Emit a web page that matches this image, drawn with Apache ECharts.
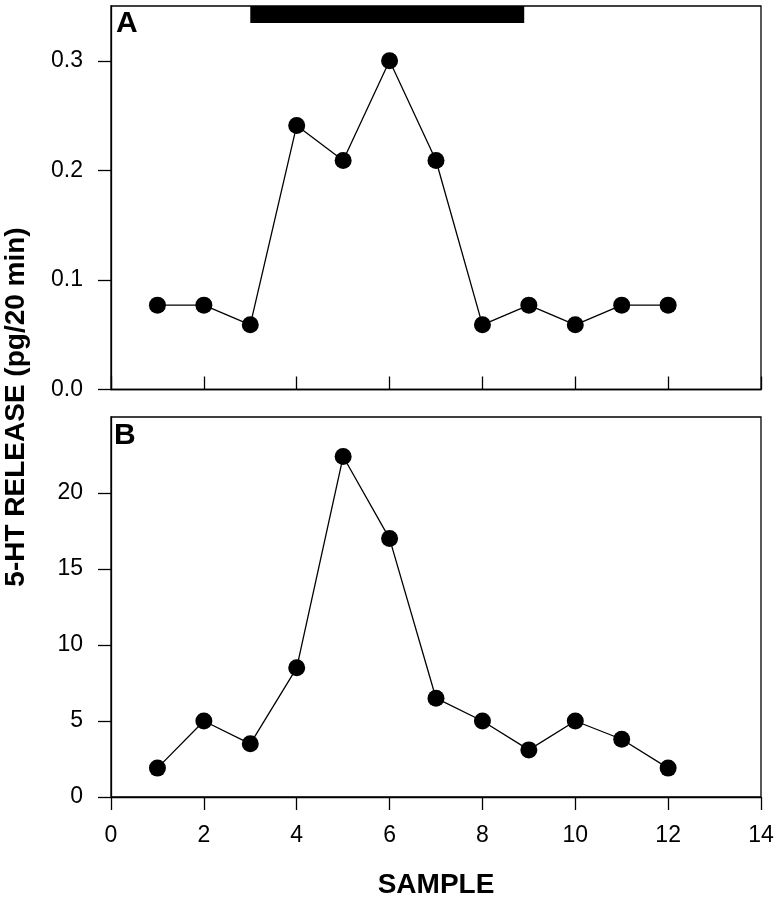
<!DOCTYPE html>
<html>
<head>
<meta charset="utf-8">
<script src="https://cdn.jsdelivr.net/npm/echarts@6/dist/echarts.min.js"></script>
<style>
html,body{margin:0;padding:0;background:#fff;}
#chart{width:779px;height:900px;}
</style>
</head>
<body>
<div id="chart"></div>
<script>
// ---- data ----
var samples = [1, 2, 3, 4, 5, 6, 7, 8, 9, 10, 11, 12];
var releaseA = [0.077, 0.077, 0.059, 0.241, 0.209, 0.300, 0.209, 0.059, 0.077, 0.059, 0.077, 0.077];
var releaseB = [1.9, 5.0, 3.5, 8.5, 22.4, 17.0, 6.5, 5.0, 3.1, 5.0, 3.8, 1.9];
var stimulusPeriod = [3, 8.9];          // sample range of the black bar
var stimulusBand = [0.3345, 0.35];       // vertical extent of the bar in panel A units
var xTicks = [0, 2, 4, 6, 8, 10, 12, 14];
var yTicksA = [0, 0.1, 0.2, 0.3];
var yTicksB = [0, 5, 10, 15, 20];
var panelLabels = ['A', 'B'];
var xTitle = 'SAMPLE';
var yTitle = '5-HT RELEASE (pg/20 min)';

function pairs(xs, ys) { return xs.map(function (x, i) { return [x, ys[i]]; }); }

var FONT = '"Liberation Sans", Arial, sans-serif';
var lw = 1.3;
var TICKFS = 23;

var chart = echarts.init(document.getElementById('chart'), null, {renderer: 'canvas'});

var option = {
  animation: false,
  backgroundColor: '#fff',
  textStyle: {fontFamily: FONT},
  grid: [
    {left: 111, width: 650, top: 6, height: 383.5, show: true, borderColor: '#000', borderWidth: lw, backgroundColor: 'transparent'},
    {left: 111, width: 650, top: 417, height: 381, show: true, borderColor: '#000', borderWidth: lw, backgroundColor: 'transparent'}
  ],
  xAxis: [
    {gridIndex: 0, type: 'value', min: 0, max: 14, interval: 2,
     axisLine: {show: true, lineStyle: {color: '#000', width: lw}},
     axisTick: {show: true, inside: true, length: 13, lineStyle: {color: '#000', width: lw}},
     axisLabel: {show: false}, splitLine: {show: false}},
    {gridIndex: 1, type: 'value', min: 0, max: 14, interval: 2,
     axisLine: {show: true, lineStyle: {color: '#000', width: lw}},
     axisTick: {show: true, inside: false, length: 13, lineStyle: {color: '#000', width: lw}},
     axisLabel: {show: true, margin: 27, color: '#000', fontSize: TICKFS, fontFamily: FONT,
                 customValues: xTicks},
     splitLine: {show: false},
     name: xTitle, nameLocation: 'middle', nameGap: 74,
     nameTextStyle: {color: '#000', fontSize: 28, fontWeight: 'bold', fontFamily: FONT}}
  ],
  yAxis: [
    {gridIndex: 0, type: 'value', min: 0, max: 0.35,
     axisLine: {show: true, lineStyle: {color: '#000', width: lw}},
     axisTick: {show: true, inside: false, length: 13, lineStyle: {color: '#000', width: lw}, customValues: yTicksA},
     axisLabel: {show: true, margin: 28, color: '#000', fontSize: TICKFS, fontFamily: FONT, customValues: yTicksA,
                 formatter: function (v) { return v.toFixed(1); }},
     splitLine: {show: false}},
    {gridIndex: 1, type: 'value', min: 0, max: 25,
     axisLine: {show: true, lineStyle: {color: '#000', width: lw}},
     axisTick: {show: true, inside: false, length: 13, lineStyle: {color: '#000', width: lw}, customValues: yTicksB},
     axisLabel: {show: true, margin: 28, color: '#000', fontSize: TICKFS, fontFamily: FONT, customValues: yTicksB},
     splitLine: {show: false}}
  ],
  series: [
    {type: 'line', xAxisIndex: 0, yAxisIndex: 0, data: pairs(samples, releaseA),
     symbol: 'circle', symbolSize: 17, lineStyle: {color: '#000', width: lw},
     itemStyle: {color: '#000'},
     markArea: {silent: true, itemStyle: {color: '#000', opacity: 1},
       data: [[{coord: [stimulusPeriod[0], stimulusBand[0]]}, {coord: [stimulusPeriod[1], stimulusBand[1]]}]]}},
    {type: 'line', xAxisIndex: 1, yAxisIndex: 1, data: pairs(samples, releaseB),
     symbol: 'circle', symbolSize: 17, lineStyle: {color: '#000', width: lw},
     itemStyle: {color: '#000'}}
  ],
  graphic: [
    {type: 'text', left: 116, top: 9, style: {text: panelLabels[0], font: 'bold 30px ' + FONT, fill: '#000'}},
    {type: 'text', left: 114, top: 421, style: {text: panelLabels[1], font: 'bold 30px ' + FONT, fill: '#000'}},
    {type: 'text', x: 16, y: 407, rotation: Math.PI / 2,
     style: {text: yTitle, font: 'bold 28px ' + FONT, fill: '#000', align: 'center', verticalAlign: 'middle'}}
  ]
};
chart.setOption(option);
</script>
</body>
</html>
